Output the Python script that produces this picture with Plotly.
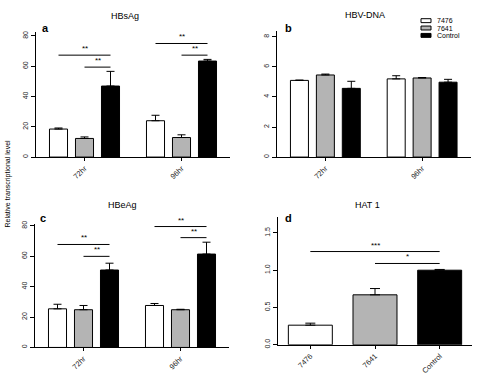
import plotly.graph_objects as go

# ---------------- data ----------------
series = ["7476", "7641", "Control"]
colors = ["#ffffff", "#b4b4b4", "#000000"]
times = ["72hr", "96hr"]

hbsag_mean = {"7476": [18.5, 24.0], "7641": [12.3, 12.9], "Control": [46.9, 63.4]}
hbsag_err = {"7476": [0.7, 3.6], "7641": [1.0, 1.8], "Control": [9.7, 1.1]}

hbvdna_mean = {"7476": [5.10, 5.20], "7641": [5.46, 5.26], "Control": [4.57, 4.98]}
hbvdna_err = {"7476": [0.02, 0.21], "7641": [0.06, 0.03], "Control": [0.47, 0.19]}

hbeag_mean = {"7476": [25.4, 27.6], "7641": [24.8, 24.8], "Control": [50.9, 61.4]}
hbeag_err = {"7476": [3.0, 1.3], "7641": [2.8, 0.3], "Control": [4.5, 7.8]}

hat1_mean = [0.263, 0.67, 1.0]
hat1_err = [0.027, 0.084, 0.01]

# significance brackets: (group index, series from, series to, height, label)
sig_a = [(0, 0, 2, 67.3, "**"), (0, 1, 2, 59.4, "**"), (1, 0, 2, 75.0, "**"), (1, 1, 2, 67.3, "**")]
sig_c = [(0, 0, 2, 67.7, "**"), (0, 1, 2, 59.9, "**"), (1, 0, 2, 79.5, "**"), (1, 1, 2, 72.2, "**")]
sig_d = [(0, 2, 1.25, "***"), (1, 2, 1.09, "*")]

titles = ["HBsAg", "HBV-DNA", "HBeAg", "HAT 1"]
letters = ["a", "b", "c", "d"]
ytitle = "Relative transcriptional level"

FONT = "Liberation Sans, Arial, sans-serif"
W, H = 480, 375

BAR_W = 0.186
STEP = 0.268

fig = go.Figure()

panels = [
    ("x", "y", hbsag_mean, hbsag_err),
    ("x2", "y2", hbvdna_mean, hbvdna_err),
    ("x3", "y3", hbeag_mean, hbeag_err),
]

for xa, ya, means, errs in panels:
    for i, s in enumerate(series):
        fig.add_trace(go.Bar(
            x=[0, 1], y=means[s], name=s, xaxis=xa, yaxis=ya,
            width=BAR_W, offset=(i - 1) * STEP - BAR_W / 2,
            marker=dict(color=colors[i], line=dict(color="#000000", width=1)),
            error_y=dict(type="data", array=errs[s], arrayminus=[0, 0], symmetric=False,
                         color="#000000", thickness=1, width=4),
            showlegend=False,
        ))

fig.add_trace(go.Bar(
    x=[0, 1, 2], y=hat1_mean, xaxis="x4", yaxis="y4", width=0.68,
    marker=dict(color=colors, line=dict(color="#000000", width=1)),
    error_y=dict(type="data", array=hat1_err, arrayminus=[0, 0, 0], symmetric=False,
                 color="#000000", thickness=1, width=5),
    showlegend=False,
))

shapes = []
annots = []

def bar_center(g, s):
    return g + (s - 1) * STEP

for xa, ya, sig in (("x", "y", sig_a), ("x3", "y3", sig_c)):
    for g, s0, s1, h, lab in sig:
        x0, x1 = bar_center(g, s0), bar_center(g, s1)
        shapes.append(dict(type="line", xref=xa, yref=ya, x0=x0, x1=x1, y0=h, y1=h,
                           line=dict(color="#000000", width=1)))
        annots.append(dict(xref=xa, yref=ya, x=(x0 + x1) / 2, y=h, text=lab, showarrow=False,
                           yanchor="bottom", yshift=0, font=dict(size=8, color="#000", family=FONT)))
for s0, s1, h, lab in sig_d:
    shapes.append(dict(type="line", xref="x4", yref="y4", x0=s0, x1=s1, y0=h, y1=h,
                       line=dict(color="#000000", width=1)))
    annots.append(dict(xref="x4", yref="y4", x=(s0 + s1) / 2, y=h, text=lab, showarrow=False,
                       yanchor="bottom", yshift=0, font=dict(size=8, color="#000", family=FONT)))

# titles and panel letters
title_pos = [(125, 13), (365, 12), (123, 206), (367, 206)]
letter_pos = [(45, 25), (288, 25), (43, 219), (288, 219)]
for t, (px, py) in zip(titles, title_pos):
    annots.append(dict(xref="paper", yref="paper", x=px / W, y=1 - py / H, text=t, showarrow=False,
                       xanchor="center", yanchor="middle", font=dict(size=9, color="#000", family=FONT)))
for t, (px, py) in zip(letters, letter_pos):
    annots.append(dict(xref="paper", yref="paper", x=px / W, y=1 - py / H, text="<b>" + t + "</b>",
                       showarrow=False, xanchor="center", yanchor="middle",
                       font=dict(size=11, color="#000", family=FONT)))

annots.append(dict(xref="paper", yref="paper", x=8 / W, y=1 - 184 / H, text=ytitle, showarrow=False,
                   textangle=-90, xanchor="center", yanchor="middle",
                   font=dict(size=7, color="#000", family=FONT)))

# manual legend (wide flat swatches like the original)
leg_rows = [18, 25.5, 33]
for s, c, ry in zip(series, colors, leg_rows):
    shapes.append(dict(type="rect", xref="paper", yref="paper", x0=421 / W, x1=431 / W,
                       y0=1 - (ry + 2) / H, y1=1 - (ry - 2) / H,
                       fillcolor=c, line=dict(color="#000", width=1)))
    annots.append(dict(xref="paper", yref="paper", x=435 / W, y=1 - ry / H, text=s, showarrow=False,
                       xanchor="left", yanchor="middle", font=dict(size=7, color="#000", family=FONT)))

def xaxis(domain, ticktext, anchor):
    n = len(ticktext)
    return dict(domain=domain, anchor=anchor, range=[-0.5, n - 0.5], tickmode="array",
                tickvals=list(range(n)), ticktext=ticktext, tickangle=-45,
                showline=True, linecolor="#000", linewidth=1, ticks="outside", ticklen=3,
                tickcolor="#000", showgrid=False, zeroline=False,
                tickfont=dict(size=7.5, color="#222", family=FONT))

def yaxis(domain, rng, tickvals, anchor, fmt=None):
    d = dict(domain=domain, anchor=anchor, range=rng, tickmode="array", tickvals=tickvals,
             tickangle=-90, showline=True, linecolor="#000", linewidth=1, ticks="outside",
             ticklen=4, tickcolor="#000", showgrid=False, zeroline=False,
             tickfont=dict(size=7, color="#222", family=FONT))
    if fmt:
        d["tickformat"] = fmt
    return d

fig.update_layout(
    width=W, height=H, margin=dict(l=0, r=0, t=0, b=0),
    paper_bgcolor="#ffffff", plot_bgcolor="#ffffff",
    barmode="overlay",
    xaxis=xaxis([36 / W, 230 / W], times, "y"),
    yaxis=yaxis([1 - 157 / H, 1 - 30 / H], [0, 82.3], [0, 20, 40, 60, 80], "x"),
    xaxis2=xaxis([277 / W, 470.5 / W], times, "y2"),
    yaxis2=yaxis([1 - 157 / H, 1 - 28.3 / H], [0, 8.4], [0, 2, 4, 6, 8], "x2"),
    xaxis3=xaxis([35 / W, 229 / W], times, "y3"),
    yaxis3=yaxis([1 - 351 / H, 1 - 225 / H], [0, 81.3], [0, 20, 40, 60, 80], "x3"),
    xaxis4=xaxis([278 / W, 472 / W], series, "y4"),
    yaxis4=yaxis([1 - 348.3 / H, 1 - 218.3 / H], [0, 1.71], [0, 0.5, 1.0, 1.5], "x4", ".1f"),
    shapes=shapes, annotations=annots,
    font=dict(family=FONT),
)

fig.write_html("out.html")
